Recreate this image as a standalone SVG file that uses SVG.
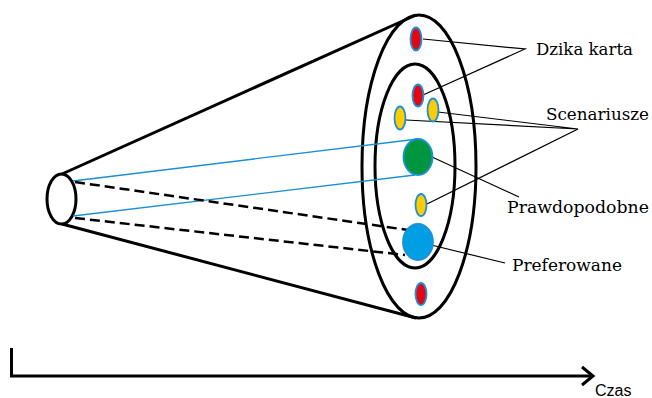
<svg xmlns="http://www.w3.org/2000/svg" width="652" height="398" viewBox="0 0 652 398">
<style>
.thick{fill:none;stroke:#000;stroke-width:3}
.dash{fill:none;stroke:#000;stroke-width:2.5;stroke-dasharray:10 5}
.blueln{fill:none;stroke:#1b8fd2;stroke-width:1.3}
.lead{fill:none;stroke:#000;stroke-width:1.2}
.dot{stroke:#1e90d8;stroke-width:1.8}
.red{fill:#e30613}
.yel{fill:#ffcc00}
.lbl{font-family:"DejaVu Serif","Liberation Serif",serif;font-size:16px;fill:#000}
.ax{font-family:"Liberation Sans",Arial,sans-serif;font-size:16px;fill:#000}
</style>
<rect width="652" height="398" fill="#fff"/>
<g id="cone">
<line class="thick" x1="62" y1="174" x2="416" y2="15"/>
<line class="thick" x1="62" y1="224" x2="416" y2="318"/>
<ellipse class="thick" cx="61.5" cy="199" rx="14.5" ry="25" fill="#fff"/>
<ellipse class="thick" cx="419" cy="166.5" rx="57" ry="151.5"/>
<ellipse class="thick" cx="415" cy="166" rx="40" ry="102"/>
</g>
<g id="connectors">
<line class="blueln" x1="73" y1="181" x2="418" y2="139"/>
<line class="blueln" x1="73" y1="216" x2="415" y2="175"/>
<line class="dash" x1="75" y1="182" x2="408" y2="230"/>
<line class="dash" x1="75" y1="218" x2="405" y2="255"/>
<polyline class="lead" points="423,39 525,49 423,95"/>
<polyline class="lead" points="438,112 578,129 406,120"/>
<line class="lead" x1="427" y1="204" x2="578" y2="129"/>
<line class="lead" x1="432" y1="157" x2="519" y2="197"/>
<line class="lead" x1="427" y1="244" x2="505" y2="263"/>
</g>
<g id="wild1"><ellipse class="dot red" cx="416" cy="39" rx="5.5" ry="11.5"/></g>
<g id="wild2"><ellipse class="dot red" cx="418" cy="95.5" rx="5.5" ry="11"/></g>
<g id="wild3"><ellipse class="dot red" cx="421" cy="294" rx="5.5" ry="11"/></g>
<g id="scen1"><ellipse class="dot yel" cx="400" cy="118" rx="5.5" ry="11.5"/></g>
<g id="scen2"><ellipse class="dot yel" cx="433" cy="110" rx="5.5" ry="11.5"/></g>
<g id="scen3"><ellipse class="dot yel" cx="421" cy="205" rx="5.5" ry="11"/></g>
<g id="probable"><ellipse class="dot" fill="#00963f" cx="418" cy="157" rx="14.5" ry="18"/></g>
<g id="preferred"><ellipse class="dot" fill="#009fe3" cx="418" cy="242" rx="15" ry="18"/></g>
<g id="labels">
<text class="lbl" x="536" y="55" textLength="97" lengthAdjust="spacingAndGlyphs">Dzika karta</text>
<text class="lbl" x="546" y="120" textLength="103" lengthAdjust="spacingAndGlyphs">Scenariusze</text>
<text class="lbl" x="507" y="213" textLength="142" lengthAdjust="spacingAndGlyphs">Prawdopodobne</text>
<text class="lbl" x="512" y="271" textLength="110" lengthAdjust="spacingAndGlyphs">Preferowane</text>
</g>
<g id="axis">
<polyline fill="none" stroke="#000" stroke-width="3" points="11.5,348 11.5,376 593,376"/>
<polyline fill="none" stroke="#000" stroke-width="3" points="582,367 593,376 582,385"/>
<text class="ax" x="595" y="396">Czas</text>
</g>
</svg>
